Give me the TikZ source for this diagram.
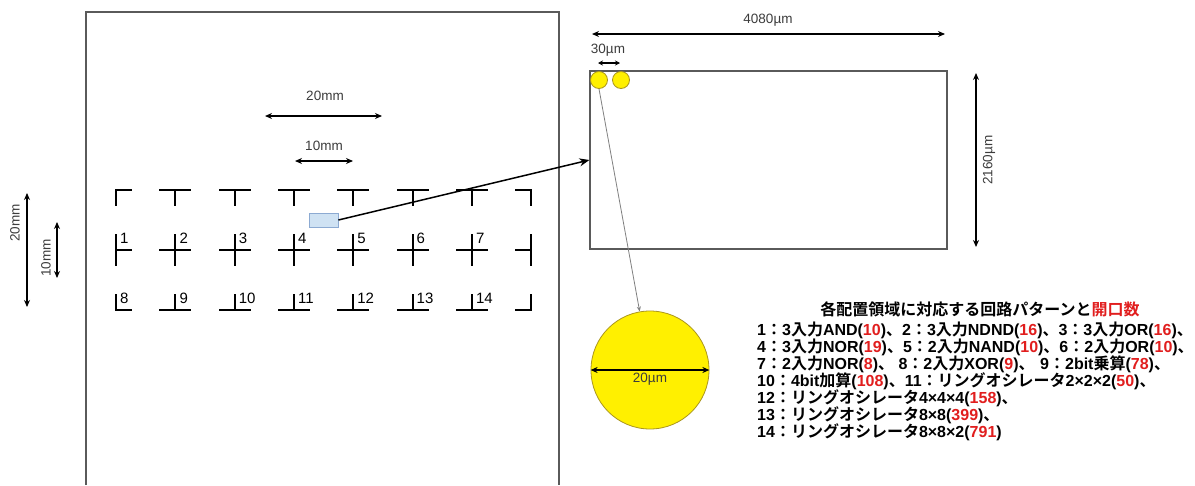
\documentclass[tikz,border=0pt]{standalone}
\usepackage{fontspec}
\setmainfont{Liberation Sans}
\newfontfamily\jp{Noto Sans CJK JP}[BoldFont={Noto Sans CJK JP Bold}]
\usetikzlibrary{arrows.meta}
\definecolor{numred}{RGB}{225,30,30}
\definecolor{framegray}{RGB}{90,90,90}
\definecolor{chipfill}{RGB}{207,226,243}
\definecolor{chipdraw}{RGB}{140,170,210}
\definecolor{dotyellow}{RGB}{255,240,0}
\definecolor{dotdraw}{RGB}{170,150,30}
\definecolor{dimtext}{RGB}{60,60,60}
\newcommand\J[1]{{\jp #1}}
\newcommand\R[1]{\textcolor{numred}{#1}}
\begin{document}
\begin{tikzpicture}[x=1pt,y=-1pt,
  dimarrow/.style={{Stealth[length=7pt,width=6pt]}-{Stealth[length=7pt,width=6pt]}, line width=1.4pt, black},
  smallarrow/.style={{Stealth[length=5pt,width=5pt]}-{Stealth[length=5pt,width=5pt]}, line width=1.2pt, black},
  dimlabel/.style={font=\fontsize{13.5}{15}\selectfont, text=dimtext, inner sep=0pt},
  markline/.style={line width=2pt, black, line cap=rect},
  numlabel/.style={font=\fontsize{15}{17}\selectfont, anchor=base west, inner sep=0pt},
  listline/.style={font=\fontsize{16}{17}\selectfont\bfseries, anchor=base west, inner sep=0pt},
  dot/.style={circle, draw=dotdraw, fill=dotyellow, inner sep=0pt, line width=0.8pt},
]
\fill[white] (0,0) rectangle (1195,485);
\useasboundingbox (0,0) rectangle (1195,485);

% wafer frame
\draw[framegray, line width=2pt] (86,485) -- (86,12) -- (559,12) -- (559,485);

% alignment marks
\foreach \i in {0,...,7} {
  \foreach \j in {0,1,2} {
    \pgfmathsetmacro\cx{116+59.3*\i}
    \pgfmathsetmacro\cy{190+60*\j}
    \ifnum\i>0 \draw[markline] (\cx,\cy) -- ++(-15,0); \fi
    \ifnum\i<7 \draw[markline] (\cx,\cy) -- ++(15,0); \fi
    \ifnum\j>0 \draw[markline] (\cx,\cy) -- ++(0,-15); \fi
    \ifnum\j<2 \draw[markline] (\cx,\cy) -- ++(0,15); \fi
  }
}
\foreach \i in {0,...,6} {
  \pgfmathsetmacro\cx{116+59.3*\i}
  \pgfmathtruncatemacro\na{\i+1}
  \pgfmathtruncatemacro\nb{\i+8}
  \node[numlabel] (n\na) at (\cx+4,243) {\na};
  \node[numlabel] (n\nb) at (\cx+4,303) {\nb};
}

% dimensions on wafer
\coordinate (h20a) at (265,116); \coordinate (h20b) at (382,116);
\draw[dimarrow] (h20a) -- (h20b);
\node[dimlabel] (l20h) at (325,96) {20mm};
\coordinate (h10a) at (295,161); \coordinate (h10b) at (353,161);
\draw[dimarrow] (h10a) -- (h10b);
\node[dimlabel] (l10h) at (324,146) {10mm};
\coordinate (v20a) at (27,193); \coordinate (v20b) at (27,307);
\draw[dimarrow] (v20a) -- (v20b);
\node[dimlabel, rotate=90] (l20v) at (15,223) {20mm};
\coordinate (v10a) at (57,222); \coordinate (v10b) at (57,278);
\draw[dimarrow] (v10a) -- (v10b);
\node[dimlabel, rotate=90] (l10v) at (46,258) {10mm};

% chip and enlarged area
\node[draw=chipdraw, fill=chipfill, minimum width=29pt, minimum height=14pt, inner sep=0pt, line width=0.8pt] (chip) at (323.5,220) {};
\node[draw=framegray, line width=1.2pt, minimum width=357pt, minimum height=178pt, inner sep=0pt] (area) at (768.5,160) {};
\draw[line width=1.5pt, -{Stealth[length=10pt,width=8pt]}] (chip.east) -- (area.west);

\coordinate (w1) at (592,34); \coordinate (w2) at (945,34);
\draw[dimarrow] (w1) -- (w2);
\node[dimlabel] (l4080) at (768,20) {4080µm};
\coordinate (hh1) at (976,73); \coordinate (hh2) at (976,247);
\draw[dimarrow] (hh1) -- (hh2);
\node[dimlabel, rotate=90] (l2160) at (989,160) {2160µm};

\node[dot, minimum size=17pt] (c1) at (599,80) {};
\node[dot, minimum size=17pt] (c2) at (621,80) {};
\coordinate (p1) at (598,63); \coordinate (p2) at (620,63);
\draw[smallarrow] (p1) -- (p2);
\node[dimlabel] (l30) at (608,50) {30µm};

% enlarged opening
\node[dot, minimum size=118pt] (big) at (650,370) {};
\draw[gray, line width=0.8pt, -{Stealth[length=5pt,width=4pt]}] (c1.south) -- (big.100);
\draw[dimarrow] (big.west) -- (big.east);
\node[dimlabel] (l20u) at (650,379) {20µm};

% legend text
\node[listline, anchor=base] (title) at (980,315) {\J{各配置領域に対応する回路パターンと\R{開口数}}};
\node[listline] (t1) at (757,335) {1\J{：}3\J{入力}AND(\R{10})\J{、}2\J{：}3\J{入力}NDND(\R{16})\J{、}3\J{：}3\J{入力}OR(\R{16})\J{、}};
\node[listline] (t2) at (757,352) {4\J{：}3\J{入力}NOR(\R{19})\J{、}5\J{：}2\J{入力}NAND(\R{10})\J{、}6\J{：}2\J{入力}OR(\R{10})\J{、}};
\node[listline] (t3) at (757,369) {7\J{：}2\J{入力}NOR(\R{8})\J{、} 8\J{：}2\J{入力}XOR(\R{9})\J{、}};
\node[listline] (t3b) at (1040,369) {9\J{：}2bit\J{乗算}(\R{78})\J{、}};
\node[listline] (t4) at (757,386) {10\J{：}4bit\J{加算}(\R{108})\J{、}11\J{：リングオシレータ}2×2×2(\R{50})\J{、}};
\node[listline] (t5) at (757,403) {12\J{：リングオシレータ}4×4×4(\R{158})\J{、}};
\node[listline] (t6) at (757,420) {13\J{：リングオシレータ}8×8(\R{399})\J{、}};
\node[listline] (t7) at (757,437) {14\J{：リングオシレータ}8×8×2(\R{791})};
\end{tikzpicture}
\end{document}
